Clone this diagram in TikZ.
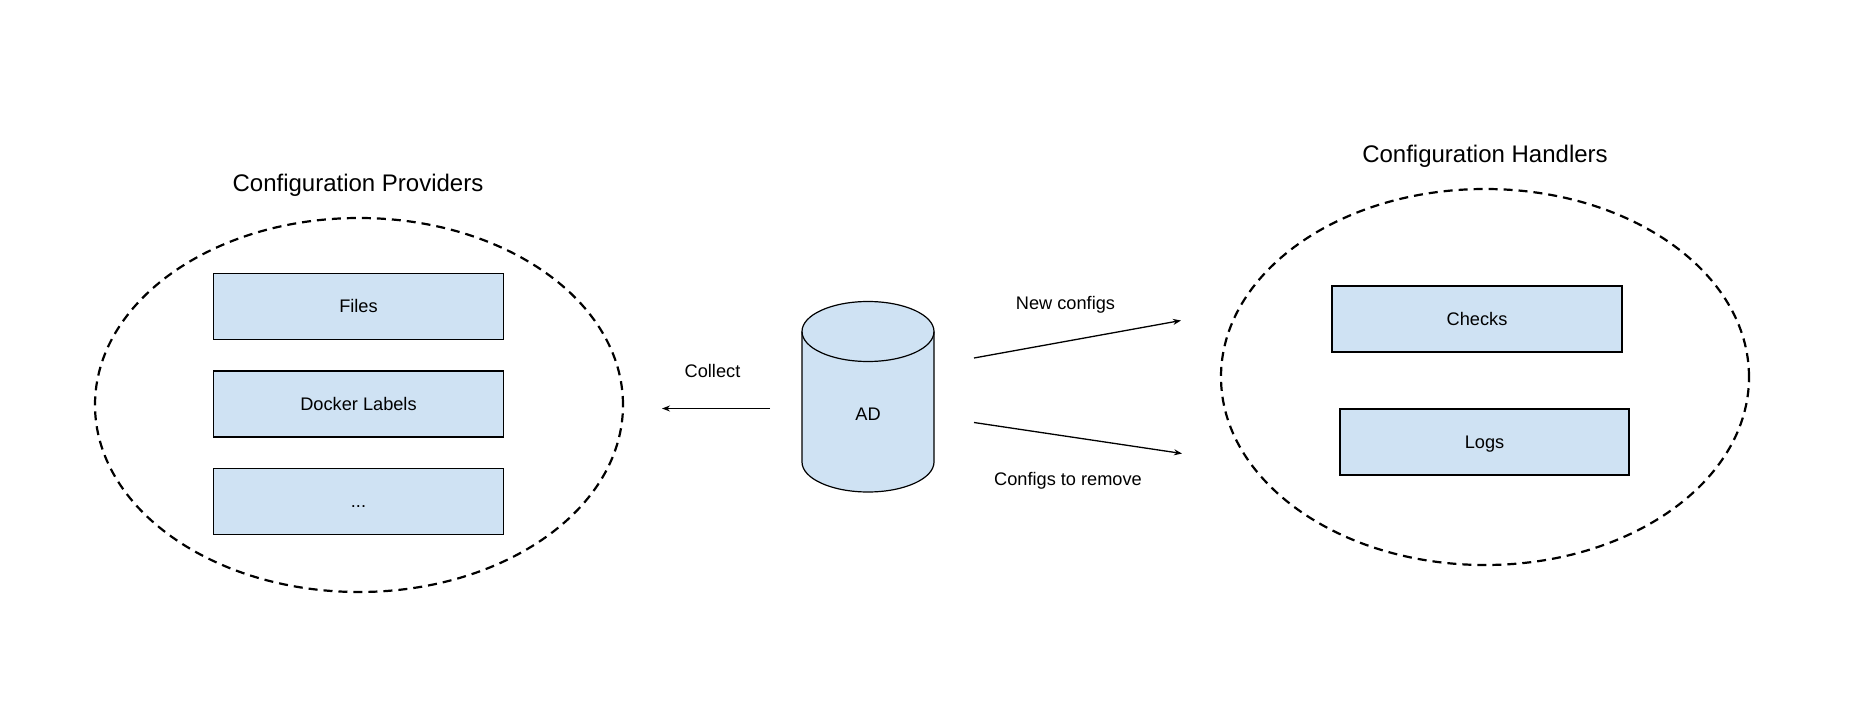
\documentclass[tikz,border=0pt]{standalone}
\usepackage{fontspec}
\setmainfont{Liberation Sans}
\usetikzlibrary{arrows.meta}
\definecolor{boxblue}{HTML}{CFE2F3}
\tikzset{
  x=1pt, y=1pt,
  itembox/.style={draw=black, fill=boxblue, line width=1.2pt, minimum width=290pt, minimum height=66pt, inner sep=0pt, text height=13pt, text depth=0pt, font=\fontsize{18.2}{20}\selectfont},
  groupell/.style={draw=black, line width=2.2pt, dash pattern=on 9pt off 6pt},
  title/.style={font=\fontsize{24}{26}\selectfont, inner sep=0pt, anchor=base},
  lbl/.style={font=\fontsize{18.2}{20}\selectfont, inner sep=0pt, anchor=base},
  cylline/.style={line width=1.2pt},
  conn/.style={draw=black, line width=1.3pt, -{Stealth[length=8pt,width=6pt]}}
}
\begin{document}
\begin{tikzpicture}
\useasboundingbox (0,0) rectangle (1872,-722);
% group ellipses
\draw[groupell] (359,-405) ellipse [x radius=264, y radius=187];
\draw[groupell] (1485,-377) ellipse [x radius=264, y radius=188];
% titles
\node[title] (tprov) at (358,-192) {Configuration Providers};
\node[title] (thand) at (1485,-163) {Configuration Handlers};
% provider boxes
\node[itembox] (files) at (358.5,-306.3) {Files};
\node[itembox] (docker) at (358.5,-404) {Docker Labels};
\node[itembox] (more) at (358.5,-501.3) {...};
% handler boxes
\node[itembox] (checks) at (1477,-319) {Checks};
\node[itembox, minimum width=289pt] (logs) at (1484.5,-442) {Logs};
% cylinder AD
\fill[boxblue] (802,-331.5) -- (802,-462) arc[start angle=180, end angle=360, x radius=66, y radius=30] -- (934,-331.5) arc[start angle=0, end angle=180, x radius=66, y radius=30] -- cycle;
\draw[cylline] (802,-331.5) -- (802,-462) arc[start angle=180, end angle=360, x radius=66, y radius=30] -- (934,-331.5);
\draw[cylline] (868,-331.5) ellipse [x radius=66, y radius=30];
\node[lbl] (ad) at (868,-420) {AD};
% connector end points
\coordinate (cs) at (770,-408.5);
\coordinate (ce) at (662,-408.5);
\coordinate (ns) at (974,-358);
\coordinate (ne) at (1181,-320.5);
\coordinate (rs) at (974,-422.5);
\coordinate (re) at (1182,-453.5);
\draw[conn] (cs) -- (ce);
\draw[conn] (ns) -- (ne);
\draw[conn] (rs) -- (re);
\node[lbl] (lcollect) at (712.5,-377) {Collect};
\node[lbl] (lnew) at (1065.5,-309) {New configs};
\node[lbl] (lremove) at (1068,-485) {Configs to remove};
\end{tikzpicture}
\end{document}
